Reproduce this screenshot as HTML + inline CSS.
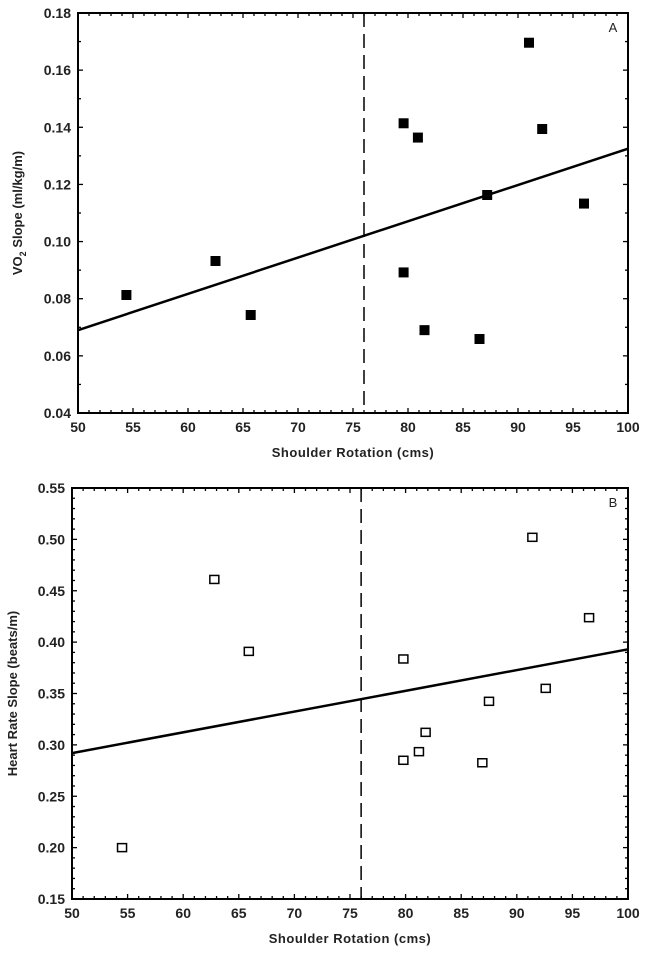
<!DOCTYPE html>
<html><head><meta charset="utf-8"><style>
html,body{margin:0;padding:0;background:#fff;}
svg{display:block;font-family:"Liberation Sans",Arial,sans-serif;}
</style></head><body>
<svg id="chart" width="651" height="958" viewBox="0 0 651 958"></svg>
<script>
// Panel A data
const aX = [54.4, 62.5, 65.7, 79.6, 80.9, 79.6, 81.5, 86.5, 87.2, 91.0, 92.2, 96.0];
const aY = [0.0813, 0.0932, 0.0743, 0.1414, 0.1364, 0.0892, 0.0690, 0.0659, 0.1163, 0.1696, 0.1394, 0.1133];
const aFit = [0.069, 0.1325];
const aYTicks = ["0.04","0.06","0.08","0.10","0.12","0.14","0.16","0.18"];
// Panel B data
const bX = [54.5, 62.8, 65.9, 79.8, 81.2, 79.8, 81.8, 86.9, 87.5, 91.4, 92.6, 96.5];
const bY = [0.200, 0.461, 0.391, 0.3836, 0.2934, 0.285, 0.3122, 0.2826, 0.3424, 0.502, 0.355, 0.4238];
const bFit = [0.292, 0.393];
const bYTicks = ["0.15","0.20","0.25","0.30","0.35","0.40","0.45","0.50","0.55"];
const xTicks = ["50","55","60","65","70","75","80","85","90","95","100"];
const cutoff = [76];

const NS = "http://www.w3.org/2000/svg";
const svg = document.getElementById("chart");
function mk(tag, attrs, parent){
  const e = document.createElementNS(NS, tag);
  for (const k in attrs) e.setAttribute(k, attrs[k]);
  (parent||svg).appendChild(e);
  return e;
}

function panel(cfg){
  const g = mk("g", {});
  
  
  const {L,R,T,B,ymin,ymax,ystep,yminor} = cfg;
  const sx = v => L + (v-50)/50*(R-L);
  const sy = v => B - (v-ymin)/(ymax-ymin)*(B-T);
  // frame
  const fr = mk("rect", {x:L,y:T,width:R-L,height:B-T,fill:"none",stroke:"#000","stroke-width":2}, g);
  
  
  // x ticks (every 1 unit minor, 5 major)
  for (let v=50; v<=100; v++){
    const x = sx(v), len = v%5===0 ? 5 : 3;
    mk("line",{x1:x,y1:B,x2:x,y2:B-len,stroke:"#000","stroke-width":1.3},g);
    mk("line",{x1:x,y1:T,x2:x,y2:T+len,stroke:"#000","stroke-width":1.3},g);
  }
  // y ticks
  const n = Math.round((ymax-ymin)/yminor);
  const per = Math.round(ystep/yminor);
  for (let i=0;i<=n;i++){
    const y = sy(ymin+i*yminor), len = i%per===0 ? 5 : 3;
    mk("line",{x1:L,y1:y,x2:L+len,y2:y,stroke:"#000","stroke-width":1.3},g);
    mk("line",{x1:R,y1:y,x2:R-len,y2:y,stroke:"#000","stroke-width":1.3},g);
  }
  // x tick labels
  xTicks.forEach(t=>{
    const tx = mk("text",{x:sx(+t),y:B+19,"text-anchor":"middle","font-size":14,"font-weight":"bold",fill:"#222"},g);
    tx.textContent = t;
    
    
  });
  cfg.yTicks.forEach(t=>{
    const ty = mk("text",{x:L-7,y:sy(+t)+5,"text-anchor":"end","font-size":14,"font-weight":"bold",fill:"#222"},g);
    ty.textContent = t;
    
    
  });
  // axis titles
  const xt = mk("text",{x:(L+R)/2,y:B+44,"text-anchor":"middle","font-size":13,"font-weight":"bold",fill:"#222","letter-spacing":"0.5"},g);
  xt.textContent = "Shoulder Rotation (cms)";
  
  
  const yt = mk("text",{x:0,y:0,"text-anchor":"middle","font-size":13,"font-weight":"bold",fill:"#222",transform:`translate(${cfg.ytx},${(T+B)/2}) rotate(-90)`},g);
  if (cfg.vo2){
    yt.innerHTML = 'VO<tspan font-size="9" dy="4">2</tspan><tspan dy="-4"> Slope (ml/kg/m)</tspan>';
  } else {
    yt.textContent = "Heart Rate Slope (beats/m)";
  }
  
  
  // panel letter
  const pl = mk("text",{x:R-15,y:T+19,"text-anchor":"middle","font-size":13,fill:"#222"},g);
  pl.textContent = cfg.letter;
  
  
  // cutoff dashed line
  const dl = mk("line",{x1:sx(cutoff[0]),y1:T,x2:sx(cutoff[0]),y2:B,stroke:"#000","stroke-width":1.5,"stroke-dasharray":"14,7"},g);
  
  
  // regression line
  const rl = mk("line",{x1:sx(50),y1:sy(cfg.fit[0]),x2:sx(100),y2:sy(cfg.fit[1]),stroke:"#000","stroke-width":2.5},g);
  
  
  // points
  cfg.xs.forEach((xv,i)=>{
    const x = sx(xv), y = sy(cfg.ys[i]);
    const p = cfg.filled
      ? mk("rect",{x:x-5,y:y-5,width:10,height:10,fill:"#000"},g)
      : mk("rect",{x:x-4.5,y:y-4,width:9,height:8,fill:"#fff",stroke:"#000","stroke-width":1.5},g);
    
    
  });
}

panel({name:"panel-a-vo2-slope",L:78,R:628,T:13,B:413,ymin:0.04,ymax:0.18,ystep:0.02,yminor:0.01,
  yTicks:aYTicks,xs:aX,ys:aY,fit:aFit,filled:true,letter:"A",vo2:true,ytx:22});
panel({name:"panel-b-heart-rate-slope",L:72,R:628,T:488,B:899,ymin:0.15,ymax:0.55,ystep:0.05,yminor:0.01,
  yTicks:bYTicks,xs:bX,ys:bY,fit:bFit,filled:false,letter:"B",vo2:false,ytx:17});
</script>
</body></html>
